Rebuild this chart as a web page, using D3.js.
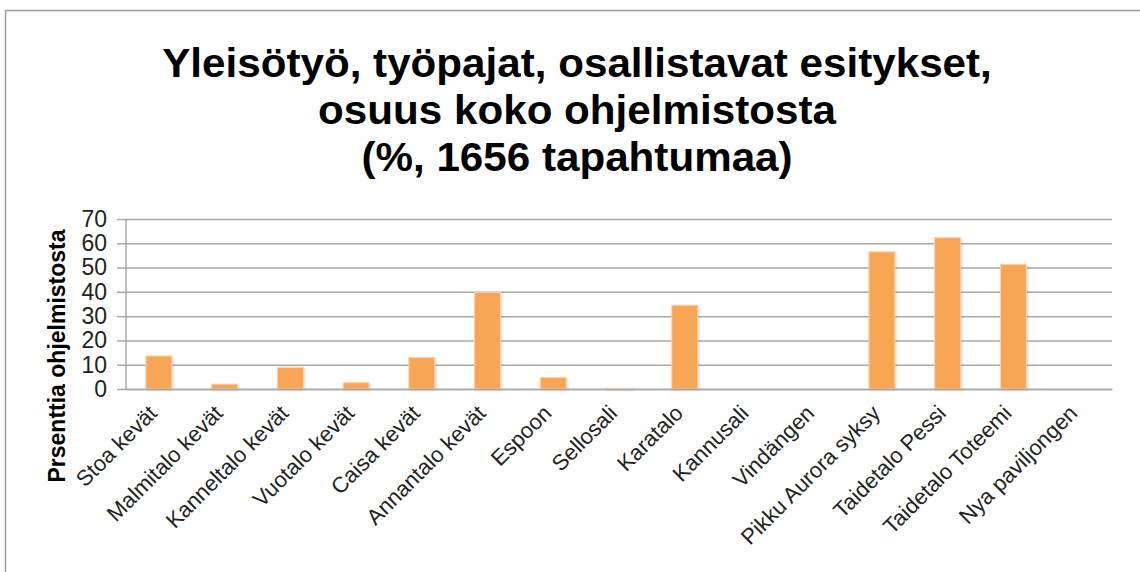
<!DOCTYPE html>
<html lang="fi">
<head>
<meta charset="UTF-8">
<title>Yleisötyö</title>
<style>
  body { margin: 0; background: #fff; }
  text { font-family: "Liberation Sans", Arial, sans-serif; }
</style>
</head>
<body>
<svg width="1140" height="572"></svg>
<script src="https://d3js.org/d3.v7.min.js"></script>
<script>
var categories = ["Stoa kevät", "Malmitalo kevät", "Kanneltalo kevät", "Vuotalo kevät", "Caisa kevät",
  "Annantalo kevät", "Espoon", "Sellosali", "Karatalo", "Kannusali", "Vindängen",
  "Pikku Aurora syksy", "Taidetalo Pessi", "Taidetalo Toteemi", "Nya paviljongen"];
var values = [13.6, 2.0, 8.9, 2.6, 13.0, 39.8, 4.8, 0.3, 34.5, 0, 0, 56.5, 62.3, 51.3, 0];
var yTicks = [0, 10, 20, 30, 40, 50, 60, 70];
var titleLines = ["Yleisötyö, työpajat, osallistavat esitykset,", "osuus koko ohjelmistosta", "(%, 1656 tapahtumaa)"];
var yLabel = "Prsenttia ohjelmistosta";

var svg = d3.select("svg");
var marge = {top: 219, bottom: 183, left: 126, right: 28};
var width = +svg.attr("width"), height = +svg.attr("height");
var iw = width - marge.left - marge.right, ih = height - marge.top - marge.bottom;

// frame (only top and left visible)
svg.append("path").attr("d", "M5.5,572 V10.5 H1140").attr("fill", "none")
  .attr("stroke", "#9a9a9a").attr("stroke-width", 1.5);

// title
var title = svg.append("g");
title.selectAll("text").data(titleLines).enter().append("text")
  .attr("x", 0).attr("y", function(d, i){ return 77 + i * 47; })
  .attr("text-anchor", "middle").attr("font-size", 41).attr("font-weight", "bold")
  .text(function(d){ return d; });
var w0 = title.select("text").node().getComputedTextLength();
title.attr("transform", "translate(577,0) scale(" + (830 / w0) + ",1)");

var g = svg.append("g").attr("transform", "translate(" + marge.left + "," + marge.top + ")");

var x = d3.scaleBand().domain(categories).range([0, iw]);
var y = d3.scaleLinear().domain([0, 70]).range([ih, 0]);

// grid
g.append("g").call(d3.axisLeft(y).tickValues(yTicks).tickSize(-iw).tickFormat(""))
  .call(function(s){ s.select(".domain").remove(); })
  .selectAll("line").attr("stroke", "#a8a8a8").attr("stroke-width", 1.5);

// y axis
var ya = g.append("g").call(d3.axisLeft(y).tickValues(yTicks).tickSize(9).tickPadding(10));
ya.select(".domain").attr("stroke", "#a8a8a8").attr("stroke-width", 1.5).attr("d", "M0,0V" + ih);
ya.selectAll("line").attr("stroke", "#a8a8a8").attr("stroke-width", 1.5);
ya.selectAll("text").attr("font-size", 23).attr("fill", "#222").attr("font-family", "Liberation Sans, Arial");

// bars
var bw = 26;
g.selectAll(".bar").data(values).enter().append("rect")
  .attr("x", function(d, i){ return x(categories[i]) + x.bandwidth() / 2 - bw / 2; })
  .attr("y", function(d){ return y(d); })
  .attr("width", bw)
  .attr("height", function(d){ return ih - y(d); })
  .attr("fill", "#F8A655").attr("stroke", "#FCD6AE").attr("stroke-width", 1)
  .style("filter", "drop-shadow(1px 1px 1px rgba(0,0,0,0.15))");

// x axis
var xa = g.append("g").attr("transform", "translate(0," + ih + ")").call(d3.axisBottom(x).tickSize(0));
xa.select(".domain").attr("stroke", "#a8a8a8").attr("stroke-width", 1.5);
xa.selectAll("text").attr("font-size", 22).attr("fill", "#222").attr("font-family", "Liberation Sans, Arial")
  .attr("text-anchor", "end")
  .attr("transform", "translate(-8,18) rotate(-45)")
  .attr("dy", "0.35em").attr("dx", "0");

// y label
svg.append("text").attr("transform", "translate(65,356) rotate(-90)")
  .attr("text-anchor", "middle").attr("font-size", 23).attr("font-weight", "bold")
  .text(yLabel);
</script>
</body>
</html>
